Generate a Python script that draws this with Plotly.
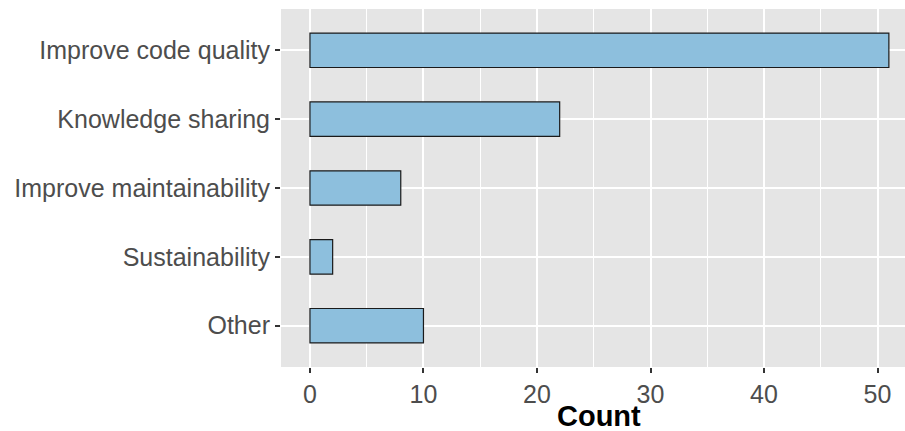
import plotly.graph_objects as go

# Survey responses: reasons for code review
categories = ["Other", "Sustainability", "Improve maintainability",
              "Knowledge sharing", "Improve code quality"]
counts = [10, 2, 8, 22, 51]
x_ticks = [0, 10, 20, 30, 40, 50]

fig = go.Figure(
    go.Bar(
        x=counts,
        y=categories,
        orientation="h",
        width=0.5,
        marker=dict(color="#8DBFDD", line=dict(color="#1a1a1a", width=1.2)),
    )
)

fig.update_layout(
    width=905,
    height=431,
    margin=dict(l=281, r=0, t=9, b=64),
    paper_bgcolor="white",
    plot_bgcolor="#E5E5E5",
    font=dict(family="Liberation Sans, Arial, sans-serif"),
    showlegend=False,
    bargap=0.5,
)

fig.update_xaxes(
    range=[-2.55, 52.42],
    tickvals=x_ticks,
    ticktext=[str(v) for v in x_ticks],
    showgrid=True,
    gridcolor="white",
    gridwidth=2,
    zeroline=False,
    ticks="outside",
    ticklen=5,
    tickwidth=2,
    tickcolor="#333333",
    tickfont=dict(size=25, color="#4D4D4D"),
    minor=dict(tickvals=[5, 15, 25, 35, 45], showgrid=True,
               gridcolor="white", gridwidth=1, ticks=""),
    fixedrange=True,
)

fig.update_yaxes(
    categoryorder="array",
    categoryarray=categories,
    range=[-0.6, 4.6],
    showgrid=True,
    gridcolor="white",
    gridwidth=2,
    ticks="outside",
    ticklen=5,
    tickwidth=2,
    tickcolor="#333333",
    tickfont=dict(size=25, color="#4D4D4D"),
    fixedrange=True,
)

fig.add_annotation(
    text="<b>Count</b>",
    xref="paper", yref="paper",
    x=0.51, y=0, yshift=-66,
    xanchor="center", yanchor="bottom",
    borderpad=0,
    showarrow=False,
    font=dict(size=29, color="black", family="Liberation Sans, Arial, sans-serif"),
)

fig.write_html("out.html", config={"displayModeBar": False})
